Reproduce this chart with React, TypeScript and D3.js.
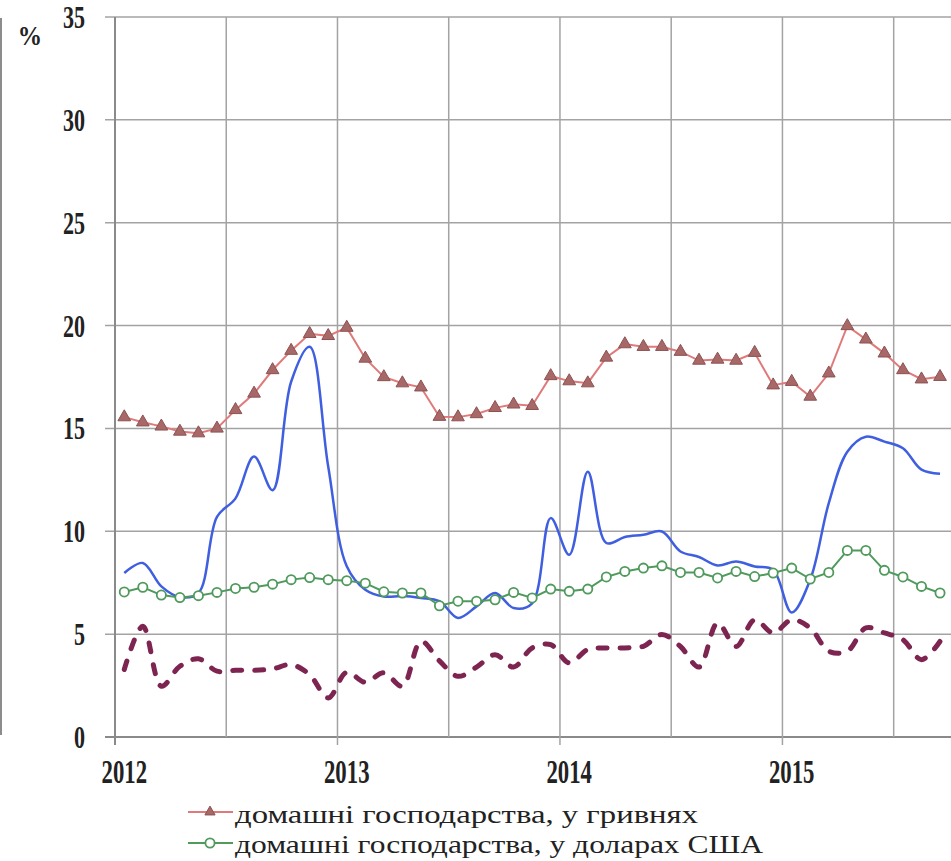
import React from "react";
import * as d3 from "d3";

const years = [2012, 2013, 2014, 2015];
const yTicks = [0, 5, 10, 15, 20, 25, 30, 35];

// monthly values, Jan 2012 – Sep 2015
const uah = [15.55, 15.3, 15.1, 14.85, 14.77, 15.0, 15.9, 16.7, 17.84, 18.78,
  19.6, 19.5, 19.9, 18.4, 17.5, 17.2, 17.0, 15.57, 15.55, 15.7,
  16.0, 16.17, 16.1, 17.55, 17.3, 17.2, 18.45, 19.1, 18.97, 18.97,
  18.73, 18.3, 18.35, 18.3, 18.68, 17.1, 17.27, 16.55, 17.68, 19.98,
  19.33, 18.65, 17.84, 17.39, 17.51];
const usd = [7.05, 7.28, 6.9, 6.78, 6.87, 7.03, 7.22, 7.28, 7.43, 7.65,
  7.75, 7.65, 7.6, 7.48, 7.06, 7.0, 7.0, 6.38, 6.6, 6.6,
  6.67, 7.03, 6.76, 7.19, 7.08, 7.19, 7.78, 8.05, 8.21, 8.32,
  8.0, 8.0, 7.73, 8.05, 7.8, 7.97, 8.21, 7.68, 8.0, 9.07,
  9.07, 8.1, 7.78, 7.32, 7.0];
const blue = [7.97, 8.46, 7.32, 6.8, 7.0, 10.7, 11.6, 13.63, 12.0, 17.27,
  18.97, 13.15, 8.3, 7.16, 6.83, 6.85, 6.76, 6.6, 5.79, 6.35,
  7.0, 6.27, 6.5, 10.64, 8.86, 12.9, 9.43, 9.72, 9.83, 9.99,
  9.02, 8.75, 8.34, 8.53, 8.29, 8.13, 6.05, 7.65, 11.37, 13.87,
  14.6, 14.36, 14.04, 13.0, 12.8];
const purple = [3.28, 5.38, 2.47, 3.44, 3.8, 3.2, 3.24, 3.24, 3.31, 3.52,
  3.03, 1.9, 3.15, 2.66, 3.12, 2.47, 4.65, 3.7, 2.95, 3.4,
  4.0, 3.4, 4.33, 4.49, 3.6, 4.25, 4.33, 4.33, 4.41, 4.98,
  4.4, 3.4, 5.54, 4.4, 5.7, 5.06, 5.7, 5.3, 4.17, 4.17,
  5.3, 5.06, 4.73, 3.76, 4.65];

const legendLabels = [
  "домашні господарства, у гривнях",
  "домашні господарства, у доларах США",
];

const W = 951, H = 861;
const X0 = 115, Y0 = 737, Y35 = 17;
const MONTH = 18.54;

const x = d3.scaleLinear().domain([0, 45]).range([X0, X0 + 45 * MONTH]);
const y = d3.scaleLinear().domain([0, 35]).range([Y0, Y35]);

const RED_LINE = "#e07a7a";
const RED_FILL = "#a86868";
const GREEN = "#4f9a5c";
const BLUE = "#3f5fe0";
const PURPLE = "#7e2450";
const GRID = "#a3a3a3";
const FONT = "Liberation Serif, Tinos, DejaVu Serif, serif";

const tri = d3.symbol().type(d3.symbolTriangle).size(70);

export default function App() {
  const pts = (arr: number[]) => arr.map((v, i) => [x(i + 0.5), y(v)] as [number, number]);
  const straight = d3.line().curve(d3.curveLinear);
  const smooth = d3.line().curve(d3.curveCatmullRom.alpha(0.5));
  const triPath = tri() as string;

  const halfYears = d3.range(0, 45, 6);

  return (
    <svg width={W} height={H} style={{ position: "absolute", left: 0, top: 0, background: "#fff" }}>
      <rect x={0} y={0} width={W} height={H} fill="#fff" />
      {/* left border fragment */}
      <line x1={1} x2={1} y1={18} y2={735} stroke="#666" strokeWidth={1.5} />
      {/* horizontal grid */}
      {yTicks.map((t) => (
        <line key={"h" + t} x1={105} x2={W} y1={y(t)} y2={y(t)} stroke={t === 0 ? "#8a8a8a" : GRID} strokeWidth={t === 0 ? 2 : 1.5} />
      ))}
      {/* vertical grid */}
      {halfYears.map((m) => (
        <line key={"v" + m} x1={x(m)} x2={x(m)} y1={Y35} y2={m % 12 === 0 ? Y0 + 8 : Y0} stroke={m === 0 ? "#8a8a8a" : GRID} strokeWidth={m === 0 ? 2 : 1.5} />
      ))}
      {/* y labels */}
      {yTicks.map((t) => (
        <text key={"yl" + t} transform={`translate(85,${y(t) + 11}) scale(0.69,1)`} textAnchor="end" style={{ fontFamily: FONT }} fontWeight="bold" fontSize={32} fill="#222">{t}</text>
      ))}
      <text transform="translate(30,45) scale(0.9,1)" textAnchor="middle" style={{ fontFamily: FONT }} fontWeight="bold" fontSize={27} fill="#222">%</text>
      {/* x labels */}
      {years.map((yr, k) => (
        <text key={"xl" + yr} transform={`translate(${x(k * 12 + 0.5)},783) scale(0.69,1)`} textAnchor="middle" style={{ fontFamily: FONT }} fontWeight="bold" fontSize={33} fill="#222">{yr}</text>
      ))}

      {/* purple dashed */}
      <path d={smooth(pts(purple)) as string} fill="none" stroke={PURPLE} strokeWidth={5} strokeDasharray="9 13" strokeLinecap="round" />
      {/* blue */}
      <path d={smooth(pts(blue)) as string} fill="none" stroke={BLUE} strokeWidth={2.5} />
      {/* green */}
      <path d={straight(pts(usd)) as string} fill="none" stroke={GREEN} strokeWidth={2} />
      {pts(usd).map(([cx, cy], i) => (
        <circle key={"g" + i} cx={cx} cy={cy} r={4.6} fill="#fff" stroke={GREEN} strokeWidth={1.8} />
      ))}
      {/* red */}
      <path d={straight(pts(uah)) as string} fill="none" stroke={RED_LINE} strokeWidth={2} />
      {pts(uah).map(([cx, cy], i) => (
        <path key={"r" + i} d={triPath} transform={`translate(${cx},${cy})`} fill={RED_FILL} stroke="#8c5252" strokeWidth={1} />
      ))}

      {/* legend */}
      <line x1={188} x2={233} y1={812} y2={812} stroke={RED_LINE} strokeWidth={2} />
      <path d={d3.symbol().type(d3.symbolTriangle).size(45)() as string} transform="translate(210,812)" fill={RED_FILL} stroke="#8c5252" strokeWidth={1} />
      <text x={235} y={823} style={{ fontFamily: FONT }} fontSize={25} textLength={463} lengthAdjust="spacingAndGlyphs" fill="#222">{legendLabels[0]}</text>
      <line x1={188} x2={233} y1={843} y2={843} stroke={GREEN} strokeWidth={2} />
      <circle cx={210} cy={843} r={4.6} fill="#fff" stroke={GREEN} strokeWidth={1.8} />
      <text x={235} y={853} style={{ fontFamily: FONT }} fontSize={25} textLength={528} lengthAdjust="spacingAndGlyphs" fill="#222">{legendLabels[1]}</text>
    </svg>
  );
}
